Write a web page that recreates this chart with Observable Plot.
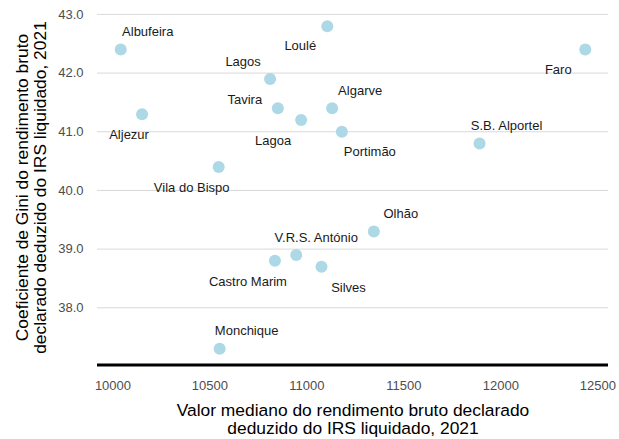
<!DOCTYPE html>
<html>
<head>
<meta charset="utf-8">
<script src="https://cdn.jsdelivr.net/npm/d3@7"></script>
<script src="https://cdn.jsdelivr.net/npm/@observablehq/plot@0.6"></script>
<style>
  html, body { margin: 0; padding: 0; background: #fff; }
  svg { font-family: "Liberation Sans", Arial, sans-serif; }
</style>
</head>
<body>
<div id="chart"></div>
<script>
// ---- data ----
const municipios = ["Albufeira", "Aljezur", "Vila do Bispo", "Lagos", "Tavira", "Lagoa", "Loulé", "Algarve",
  "Portimão", "S.B. Alportel", "Faro", "Castro Marim", "V.R.S. António", "Silves", "Olhão", "Monchique"];
const medianaRendimento = [10040, 10150, 10545, 10810, 10850, 10970, 11105, 11130,
  11180, 11890, 12435, 10835, 10945, 11075, 11345, 10550];
const giniCoef = [42.4, 41.3, 40.4, 41.9, 41.4, 41.2, 42.8, 41.4,
  41.0, 40.8, 42.4, 38.8, 38.9, 38.7, 39.3, 37.3];
const xTicks = [10000, 10500, 11000, 11500, 12000, 12500];
const yTicks = [38, 39, 40, 41, 42, 43];
const xTitle = "Valor mediano do rendimento bruto declarado\ndeduzido do IRS liquidado, 2021";
const yTitle = "Coeficiente de Gini do rendimento bruto\ndeclarado deduzido do IRS liquidado, 2021";

// ---- label placement (pixel nudges, style only) ----
const nudge = {
  "Albufeira": [27, -18], "Aljezur": [-13, 21], "Vila do Bispo": [-27, 21], "Lagos": [-27, -17],
  "Tavira": [-33, -8], "Lagoa": [-28, 21], "Loulé": [-27, 20], "Algarve": [28, -17],
  "Portimão": [28, 20], "S.B. Alportel": [27, -18], "Faro": [-27, 20], "Castro Marim": [-27, 21],
  "V.R.S. António": [20, -17], "Silves": [27, 21], "Olhão": [27, -18], "Monchique": [27, -18]
};

const data = municipios.map((m, i) => ({name: m, x: medianaRendimento[i], y: giniCoef[i]}));

const xExt = d3.extent(medianaRendimento), yExt = d3.extent(giniCoef);
const xPad = (xExt[1] - xExt[0]) * 0.05, yPad = (yExt[1] - yExt[0]) * 0.05;
const xDomain = [xExt[0] - xPad, xExt[1] + xPad];
const yDomain = [yExt[0] - yPad, yExt[1] + yPad];

const labelMarks = data.map(d => Plot.text([d], {
  x: "x", y: "y", text: "name", dx: nudge[d.name][0], dy: nudge[d.name][1],
  fontSize: 13, fill: "#1a1a1a"
}));

const chart = Plot.plot({
  width: 619,
  height: 439,
  marginLeft: 97,
  marginRight: 11,
  marginTop: 9.5,
  marginBottom: 74.5,
  style: {fontFamily: "Liberation Sans, Arial, sans-serif", background: "#fff"},
  x: {domain: xDomain},
  y: {domain: yDomain},
  marks: [
    Plot.gridY(yTicks, {stroke: "#d9d9d9", strokeOpacity: 1, strokeWidth: 1}),
    Plot.ruleY([yDomain[0]], {stroke: "#000", strokeWidth: 3}),
    Plot.axisY(yTicks, {tickSize: 0, tickPadding: 14, tickFormat: d => d.toFixed(1), fontSize: 13, fill: "#4d4d4d", label: null}),
    Plot.axisX(xTicks, {tickSize: 0, tickPadding: 16, tickFormat: d => String(d), fontSize: 13, fill: "#4d4d4d", label: null}),
    Plot.dot(data, {x: "x", y: "y", r: 6, fill: "#ADD8E6", stroke: "none"}),
    ...labelMarks,
    Plot.text([xTitle], {frameAnchor: "bottom", text: d => d, lineAnchor: "top", dy: 38, fontSize: 17.4, lineHeight: 1.05, fill: "#000"}),
    Plot.text([yTitle], {frameAnchor: "left", text: d => d, rotate: -90, textAnchor: "middle", lineAnchor: "middle", dx: -66, fontSize: 17.4, lineHeight: 1.05, fill: "#000"})
  ]
});
document.getElementById("chart").appendChild(chart);
</script>
</body>
</html>
